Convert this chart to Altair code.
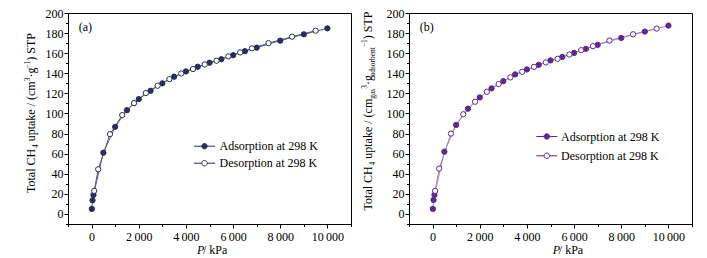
import altair as alt
import pandas as pd

# ---------------- data ----------------
SERIES = ["Adsorption at 298 K", "Desorption at 298 K"]

ADS_P = [10, 40, 80, 500, 1000, 1500, 2000, 2500, 3000, 3500, 4000, 4500,
         5000, 5500, 6000, 6500, 7000, 8000, 9000, 10000]
DES_P = [110, 280, 780, 1300, 1800, 2300, 2800, 3300, 3800, 4300, 4800,
         5300, 5800, 6300, 6800, 7500, 8500, 9500]

A_ADS_U = [5, 13.6, 18.9, 61, 86.7, 103.3, 114.3, 122.6, 130, 136.6, 141.8,
           146.5, 150.5, 154, 158, 162, 165.5, 172.5, 178.8, 184.7]
A_DES_U = [23, 44.5, 79.4, 98.4, 110.3, 120.3, 127.6, 134.2, 139.8, 144.2,
           148.8, 152.5, 156.8, 160.8, 164.8, 170, 176.4, 182.4]

B_ADS_U = [5, 14, 19, 62, 88.6, 104.8, 116, 125, 132.2, 138.9, 143.8, 148.4,
           152.8, 156.3, 160.3, 164.3, 168.3, 175.2, 181.5, 187.5]
B_DES_U = [23, 45.2, 80, 99.2, 111.7, 121.6, 129.3, 135.9, 141.5, 146.4,
           150.8, 154.4, 158.7, 163, 167, 172.6, 178.8, 184.5]

X_TICKS = list(range(-1000, 11001, 1000))
Y_TICKS = list(range(-10, 201, 10))

TITLE_A = [("Total CH", "n"), ("4", "sub"), (" uptake / (cm", "n"), ("3", "sup"),
           ("\u00b7g", "n"), ("\u22121", "sup"), (") STP", "n")]
TITLE_B = [("Total CH", "n"), ("4", "sub"), (" uptake / (cm", "n"), ("gas", "sub"),
           ("3", "sup"), ("\u00b7g", "n"), ("adsorbent", "sub"), ("\u22121", "sup"),
           (") STP", "n")]
X_TITLE = [("P", "i"), ("  / kPa", "n")]

# ---------------- style ----------------
FONT = "Liberation Serif"
FS = 12
W, H = 283, 211

# Times (Liberation Serif) advance widths, per 1000 em
TIMES = {' ': 250, 'T': 611, 'o': 500, 't': 278, 'a': 444, 'l': 278, 'C': 667,
         'H': 722, 'u': 500, 'p': 500, 'k': 500, 'e': 444, '/': 278, '(': 333,
         'c': 444, 'm': 778, ')': 333, 'S': 556, 'P': 556, 'g': 500, 's': 389,
         'd': 500, 'r': 333, 'b': 500, 'n': 500, '\u00b7': 250, '\u2212': 564,
         '1': 500, '3': 500, '4': 500}
SUB = 0.62


def seg_size(kind):
    return FS * SUB if kind in ("sub", "sup") else FS


def seg_width(text, kind):
    if kind == "i":
        return 611 * FS / 1000
    return sum(TIMES.get(c, 500) for c in text) * seg_size(kind) / 1000


def rich_text(segments, x, y, angle):
    total = sum(seg_width(t, k) for t, k in segments)
    cum = -total / 2
    layers = []
    for text, kind in segments:
        # Vega trims text, so leading spaces become an offset instead
        stripped = text.lstrip(" ")
        lead = seg_width(text[:len(text) - len(stripped)], kind)
        dy = {"sub": 0.25 * FS, "sup": -0.38 * FS}.get(kind, 0)
        props = dict(align="left", baseline="alphabetic", dx=cum + lead, dy=dy,
                     font=FONT, fontSize=seg_size(kind), color="black")
        if angle:
            props["angle"] = angle
        if kind == "i":
            props["fontStyle"] = "italic"
        layers.append(
            alt.Chart(pd.DataFrame({"t": [stripped]})).mark_text(**props).encode(
                text="t:N", x=alt.value(x), y=alt.value(y)))
        cum += seg_width(text, kind)
    return layers


LEG_PATH = ("M-1.5,0L-0.39,0M0.39,0L1.5,0"
            "M-0.39,0A0.39,0.39,0,1,1,0.39,0A0.39,0.39,0,1,1,-0.39,0Z")

x_axis = alt.Axis(
    values=X_TICKS, title=None, grid=False, labelFlush=False, labelOverlap=False,
    labelExpr="(datum.value % 2000 === 0 && datum.value >= 0) ? "
              "replace(format(datum.value, ','), ',', '\u2009') : ''",
    tickSize={"condition": {"test": "datum.value % 2000 !== 0", "value": 2.5}, "value": 4},
    labelPadding=3)
y_axis = alt.Axis(
    values=Y_TICKS, title=None, grid=False, labelFlush=False, labelOverlap=False,
    labelExpr="(datum.value % 20 === 0 && datum.value >= 0) ? datum.label : ''",
    tickSize={"condition": {"test": "datum.value % 20 !== 0", "value": 2.5}, "value": 4},
    labelPadding=1)


def panel(ads_u, des_u, line_color, marker_color, tag, title_segs,
          title_x, title_y, xt_x, leg_x, leg_y, leg_off, leg_pad):
    df = pd.concat([
        pd.DataFrame({"P": ADS_P, "U": ads_u, "s": SERIES[0]}),
        pd.DataFrame({"P": DES_P, "U": des_u, "s": SERIES[1]}),
    ])
    xenc = alt.X("P:Q", scale=alt.Scale(domain=[-1000, 11000], nice=False, zero=False), axis=x_axis)
    yenc = alt.Y("U:Q", scale=alt.Scale(domain=[-10, 200], nice=False, zero=False), axis=y_axis)
    base = alt.Chart(df)
    line = base.mark_line(strokeWidth=1, color=line_color).encode(
        x=xenc, y=yenc, detail="s:N", order="P:Q")
    pts = base.mark_point(shape="circle", filled=True, size=28, stroke=marker_color,
                          strokeWidth=1, opacity=1).encode(
        x=xenc, y=yenc,
        fill=alt.Fill("s:N", scale=alt.Scale(domain=SERIES, range=[marker_color, "white"]),
                      legend=alt.Legend(
                          title=None, orient="none", legendX=leg_x, legendY=leg_y,
                          symbolType=LEG_PATH, symbolSize=196, symbolStrokeWidth=1,
                          symbolStrokeColor=marker_color, labelFont=FONT,
                          labelFontSize=FS, labelColor="black", labelOffset=leg_off,
                          rowPadding=leg_pad, padding=0)))
    label = alt.Chart(pd.DataFrame({"t": [tag]})).mark_text(
        align="left", baseline="alphabetic", font=FONT, fontSize=FS, color="black"
    ).encode(text="t:N", x=alt.value(10.8), y=alt.value(17.5))
    layers = [line, pts, label]
    layers += rich_text(title_segs, title_x, title_y, 270)
    layers += rich_text(X_TITLE, xt_x, H + 29.5, 0)
    return alt.layer(*layers).properties(width=W, height=H)


left = panel(A_ADS_U, A_DES_U, "#56568a", "#2c2c5c", "(a)", TITLE_A,
             -33, 100, 140.5, 129, 125.7, 7.5, 3)
right = panel(B_ADS_U, B_DES_U, "#a184c6", "#5a2a8e", "(b)", TITLE_B,
              -37, 98, 155.3, 130.3, 116, 6.7, 5.3)

chart = alt.hconcat(left, right, spacing=8).resolve_scale(
    fill="independent").resolve_legend(fill="independent").properties(
    padding={"left": 23, "top": 6, "right": 5, "bottom": 5},
    background="white",
).configure_view(stroke="black", strokeWidth=1).configure_axis(
    domainColor="black", tickColor="black", labelColor="black",
    labelFont=FONT, labelFontSize=FS, domainWidth=1, tickWidth=1)

chart.save("out.html", embed_options={"renderer": "svg", "actions": False})
